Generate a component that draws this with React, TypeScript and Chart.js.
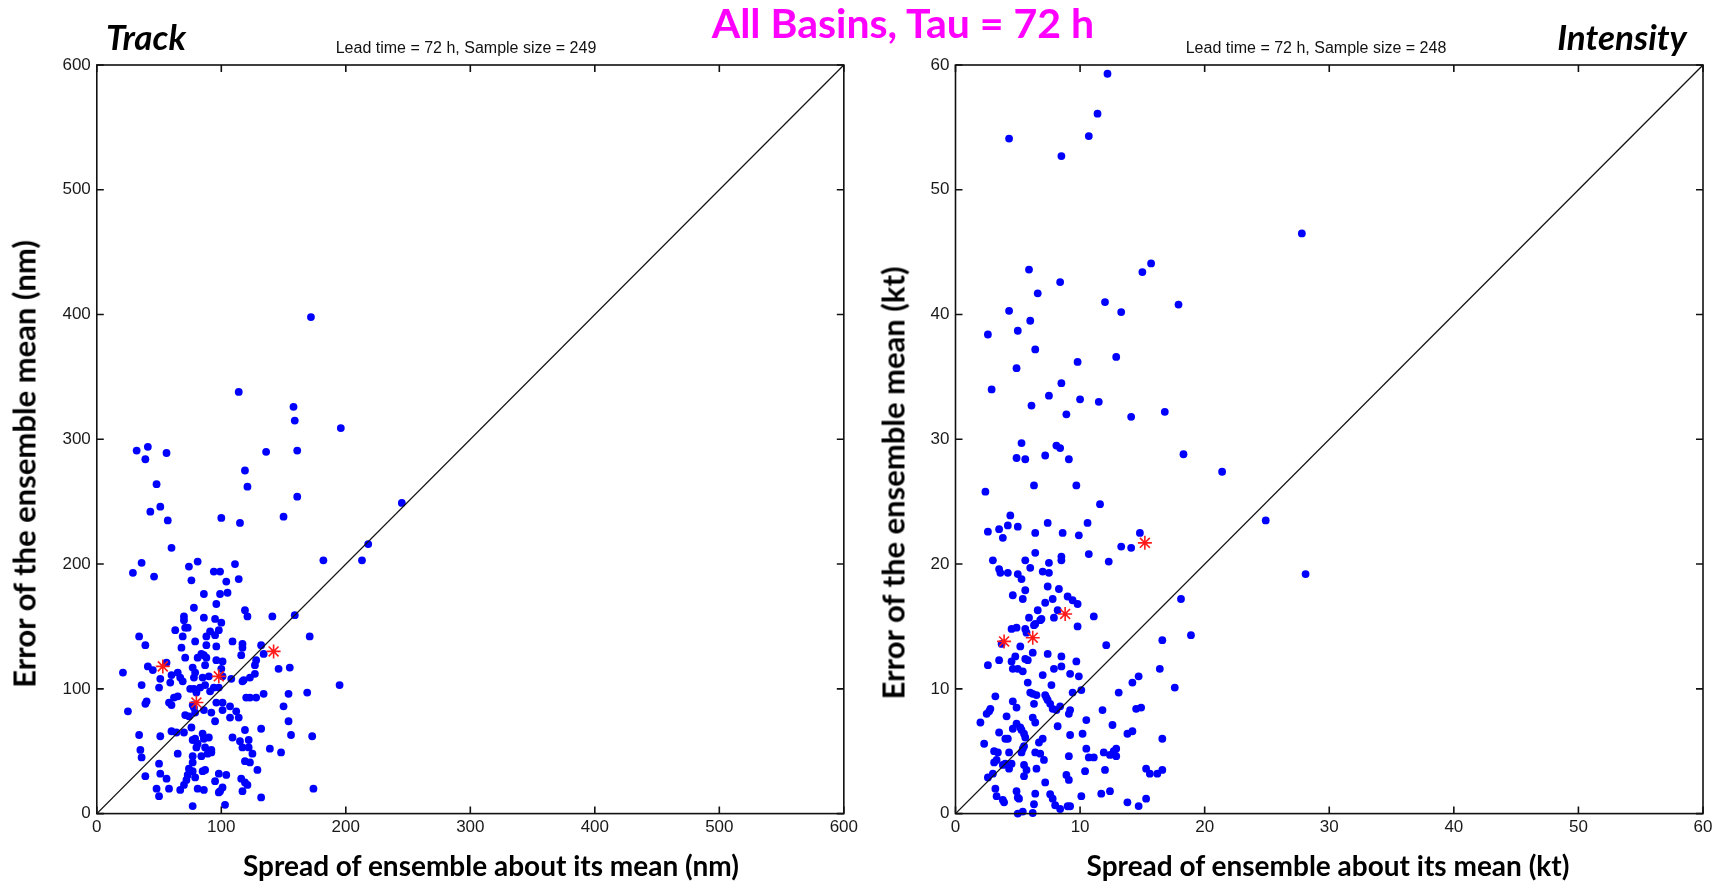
import React, { useEffect, useRef } from "react";
import { Chart, registerables } from "chart.js";
Chart.register(...registerables);

// ---------------- data ----------------
const trackSpread = [
  114, 158, 159, 196, 41, 32, 56, 136, 161, 39,
  119, 121, 48, 51, 43, 161, 57, 100, 115, 150,
  60, 36, 29, 46, 74, 81, 76, 94, 99, 111,
  114, 104, 99, 105, 86, 182, 119, 121, 78, 96,
  141, 159, 70, 70, 86, 95, 100, 71, 73, 63,
  91, 95, 98, 88, 69, 34, 39, 79, 109, 88,
  96, 68, 117, 117, 116, 132, 171, 71, 81, 84,
  86, 88, 96, 101, 87, 77, 56, 41, 45, 21,
  128, 127, 134, 146, 155, 127, 123, 118, 117, 108,
  100, 101, 79, 78, 65, 60, 67, 69, 59, 51,
  50, 36, 85, 83, 87, 90, 94, 98, 78, 75,
  80, 91, 96, 101, 120, 123, 128, 134, 154, 169,
  195, 62, 65, 58, 60, 39, 40, 25, 77, 78,
  86, 92, 101, 107, 112, 114, 107, 150, 154, 71,
  74, 95, 79, 60, 64, 70, 76, 34, 51, 85,
  90, 79, 77, 81, 86, 80, 87, 92, 92, 89,
  84, 77, 119, 132, 109, 122, 115, 117, 122, 125,
  139, 148, 156, 173, 35, 36, 65, 119, 123, 129,
  50, 77, 77, 74, 73, 79, 85, 87, 72, 51,
  56, 39, 98, 104, 95, 116, 119, 121, 48, 58,
  50, 67, 70, 81, 86, 99, 101, 98, 117, 132,
  174, 77, 103, 172, 245, 218, 213,
];
const trackError = [
  338, 326, 315, 309, 294, 291, 289, 290, 291, 284,
  275, 262, 264, 246, 242, 254, 235, 237, 233, 238,
  213, 201, 193, 190, 198, 202, 187, 194, 194, 200,
  188, 186, 176, 177, 176, 203, 163, 158, 165, 168,
  158, 159, 158, 155, 157, 156, 153, 149, 149, 147,
  146, 143, 147, 142, 142, 142, 135, 138, 138, 135,
  134, 133, 136, 133, 127, 135, 142, 125, 125, 128,
  127, 125, 123, 122, 119, 117, 121, 118, 115, 113,
  123, 119, 128, 116, 117, 112, 109, 107, 106, 108,
  116, 110, 113, 109, 113, 111, 109, 106, 105, 108,
  101, 103, 109, 101, 103, 110, 101, 101, 100, 100,
  97, 98, 89, 89, 93, 93, 93, 96, 96, 97,
  103, 93, 94, 89, 87, 88, 90, 82, 87, 85,
  83, 81, 83, 86, 82, 77, 77, 86, 74, 79,
  78, 74, 81, 66, 65, 65, 69, 63, 62, 64,
  61, 60, 59, 56, 60, 53, 53, 51, 49, 48,
  46, 46, 67, 68, 61, 59, 58, 53, 53, 48,
  52, 49, 63, 62, 51, 45, 48, 42, 41, 35,
  40, 41, 34, 36, 31, 29, 34, 35, 27, 32,
  28, 30, 32, 31, 26, 28, 25, 23, 20, 20,
  14, 19, 23, 20, 19, 18, 21, 17, 18, 13,
  20, 6, 7, 398, 249, 216, 203,
];
const trackStarSpread = [53, 98, 80, 142];
const trackStarError = [118, 110, 89, 130];

const intSpread = [
  12.2, 11.4, 4.3, 10.7, 8.5, 5.9, 8.4, 15.7, 15.0, 6.6,
  12.0, 17.9, 4.3, 13.3, 6.0, 5.0, 2.6, 6.4, 9.8, 12.9,
  4.9, 8.5, 2.9, 7.5, 10.0, 11.5, 6.1, 8.9, 14.1, 16.8,
  5.3, 8.1, 8.4, 4.9, 5.6, 7.2, 9.1, 18.3, 27.8, 21.4,
  24.9, 28.1, 18.9, 2.4, 6.3, 9.7, 11.6, 4.4, 7.4, 10.6,
  2.6, 3.5, 4.2, 5.0, 3.8, 6.4, 8.6, 9.9, 14.8, 13.3,
  14.1, 10.7, 6.4, 12.3, 3.0, 5.6, 8.5, 8.5, 7.5, 3.5,
  3.6, 4.2, 6.0, 5.0, 5.3, 7.0, 7.5, 4.6, 5.6, 5.4,
  7.4, 8.3, 7.8, 7.2, 9.0, 9.4, 9.8, 18.1, 8.2, 6.6,
  7.9, 5.9, 6.4, 6.3, 6.8, 6.9, 11.1, 9.8, 4.5, 4.9,
  5.6, 5.7, 5.2, 12.1, 16.6, 3.7, 6.2, 5.6, 5.8, 3.5,
  7.4, 8.5, 9.7, 2.6, 4.5, 4.8, 4.6, 5.0, 5.4, 7.9,
  8.5, 9.2, 9.9, 7.0, 14.7, 14.2, 16.4, 17.6, 5.8, 7.7,
  6.0, 6.2, 6.5, 7.2, 7.3, 7.4, 7.6, 7.8, 8.1, 8.4,
  3.2, 9.4, 10.1, 13.1, 4.6, 4.9, 6.3, 2.8, 2.7, 2.5,
  9.2, 9.1, 11.8, 14.5, 14.9, 4.1, 6.2, 6.4, 2.0, 8.2,
  10.5, 12.6, 4.9, 5.2, 4.6, 5.3, 5.5, 3.5, 9.2, 10.2,
  13.8, 14.2, 16.6, 4.0, 4.2, 5.6, 2.3, 6.7, 7.0, 3.1,
  3.4, 4.3, 5.3, 5.4, 5.5, 6.4, 6.8, 7.1, 9.1, 10.5,
  10.7, 11.1, 11.9, 12.4, 12.7, 12.9, 12.9, 3.3, 3.1, 4.0,
  3.8, 4.5, 4.3, 5.5, 5.7, 6.5, 2.6, 3.0, 5.5, 7.2,
  8.9, 9.1, 10.4, 12.0, 15.3, 15.6, 16.2, 16.6, 3.2, 3.3,
  3.8, 3.9, 4.9, 5.0, 5.1, 6.4, 6.3, 7.6, 7.8, 8.0,
  8.4, 9.0, 9.2, 10.1, 11.7, 12.4, 13.8, 14.7, 15.3, 5.0,
  5.4, 6.2,
];
const intError = [
  59.3, 56.1, 54.1, 54.3, 52.7, 43.6, 42.6, 44.1, 43.4, 41.7,
  41.0, 40.8, 40.3, 40.2, 39.5, 38.7, 38.4, 37.2, 36.2, 36.6,
  35.7, 34.5, 34.0, 33.5, 33.2, 33.0, 32.7, 32.0, 31.8, 32.2,
  29.7, 29.5, 29.3, 28.5, 28.4, 28.7, 28.4, 28.8, 46.5, 27.4,
  23.5, 19.2, 14.3, 25.8, 26.3, 26.3, 24.8, 23.9, 23.3, 23.3,
  22.6, 22.8, 23.1, 23.0, 22.1, 22.5, 22.5, 22.3, 22.5, 21.4,
  21.3, 20.8, 20.9, 20.2, 20.3, 20.3, 20.6, 20.3, 20.1, 19.6,
  19.3, 19.3, 19.7, 19.2, 18.8, 19.4, 19.3, 17.5, 17.9, 17.2,
  18.2, 18.0, 17.2, 16.9, 17.4, 17.1, 16.8, 17.2, 16.3, 16.3,
  15.7, 15.7, 15.2, 15.1, 15.5, 15.6, 15.8, 15.0, 14.8, 14.9,
  14.8, 14.5, 13.4, 13.5, 13.9, 13.6, 12.9, 12.4, 12.3, 12.3,
  12.8, 12.6, 12.2, 11.9, 12.2, 12.6, 11.6, 11.6, 11.4, 11.6,
  11.8, 11.2, 11.0, 11.1, 11.0, 10.5, 11.6, 10.1, 10.5, 10.3,
  9.7, 9.6, 9.5, 9.5, 9.3, 9.1, 8.8, 8.4, 8.3, 8.6,
  9.4, 9.7, 9.9, 9.7, 9.0, 8.5, 8.8, 8.4, 8.2, 8.0,
  8.3, 8.0, 8.3, 8.4, 8.5, 7.8, 7.7, 7.3, 7.3, 7.0,
  7.5, 7.1, 7.2, 6.9, 6.8, 6.7, 6.4, 6.5, 6.3, 6.4,
  6.4, 6.6, 6.0, 6.0, 6.0, 6.1, 5.6, 5.7, 6.0, 5.0,
  4.9, 4.9, 4.9, 5.2, 5.4, 4.9, 4.8, 4.3, 4.6, 5.2,
  4.5, 4.5, 4.9, 4.7, 5.0, 4.6, 5.2, 4.3, 4.1, 4.0,
  3.9, 4.0, 3.6, 3.9, 3.5, 3.6, 2.9, 3.2, 3.0, 2.5,
  3.1, 2.7, 3.4, 3.5, 3.6, 3.2, 3.2, 3.5, 2.0, 1.4,
  1.1, 0.9, 1.8, 1.3, 1.2, 1.6, 0.75, 1.55, 1.2, 0.67,
  0.37, 0.59, 0.59, 1.4, 1.6, 1.8, 0.9, 0.6, 1.2, 0,
  0.16, 0.05,
];
const intStarSpread = [3.9, 6.2, 8.8, 15.2];
const intStarError = [13.8, 14.1, 16.0, 21.7];

const trackTicks = [0, 100, 200, 300, 400, 500, 600];
const intTicks = [0, 10, 20, 30, 40, 50, 60];

const mainTitle = "All Basins, Tau = 72 h";
const leftPanel = "Track";
const rightPanel = "Intensity";
const leftSub = "Lead time = 72 h, Sample size = 249";
const rightSub = "Lead time = 72 h, Sample size = 248";
const leftXTitle = "Spread of ensemble about its mean (nm)";
const rightXTitle = "Spread of ensemble about its mean (kt)";
const leftYTitle = "Error of the ensemble mean (nm)";
const rightYTitle = "Error of the ensemble mean (kt)";

// ---------------- chart helpers ----------------
const CANVAS_W = 862;
const CANVAS_H = 881;
const PLOT_TOP = 65;
const X_AXIS_H = 67.4;

function zip(xs: number[], ys: number[]) {
  return xs.map((x, i) => ({ x, y: ys[i] }));
}

const boxPlugin = {
  id: "matlabBox",
  afterDatasetsDraw(chart: any, _args: any, opts: any) {
    const { ctx, chartArea: a, scales } = chart;
    const ticks: number[] = opts.ticks || [];
    const L = 7;
    ctx.save();
    ctx.strokeStyle = "#111";
    ctx.lineWidth = 1.6;
    ctx.strokeRect(a.left, a.top, a.right - a.left, a.bottom - a.top);
    ctx.beginPath();
    ticks.forEach((v) => {
      const px = scales.x.getPixelForValue(v);
      ctx.moveTo(px, a.bottom);
      ctx.lineTo(px, a.bottom - L);
      ctx.moveTo(px, a.top);
      ctx.lineTo(px, a.top + L);
      const py = scales.y.getPixelForValue(v);
      ctx.moveTo(a.left, py);
      ctx.lineTo(a.left + L, py);
      ctx.moveTo(a.right, py);
      ctx.lineTo(a.right - L, py);
    });
    ctx.stroke();
    ctx.restore();
  },
};

function makeConfig(
  xs: number[],
  ys: number[],
  sx: number[],
  sy: number[],
  ticks: number[],
  yAxisW: number,
  rightPad: number
): any {
  const max = ticks[ticks.length - 1];
  const step = ticks[1] - ticks[0];
  const tickFont = { family: "'Liberation Sans', Arial, sans-serif", size: 17 };
  return {
    type: "scatter",
    data: {
      datasets: [
        {
          label: "stars",
          data: zip(sx, sy),
          pointStyle: "star",
          pointRadius: 7,
          borderColor: "#ff1a1a",
          backgroundColor: "#ff1a1a",
          borderWidth: 1.6,
          clip: false,
          order: 1,
        },
        {
          label: "diag",
          data: [
            { x: 0, y: 0 },
            { x: max, y: max },
          ],
          showLine: true,
          borderColor: "#111",
          borderWidth: 1.3,
          pointRadius: 0,
          order: 2,
        },
        {
          label: "cases",
          data: zip(xs, ys),
          pointStyle: "circle",
          pointRadius: 3.9,
          borderWidth: 0,
          backgroundColor: "#0000ff",
          clip: false,
          order: 3,
        },
      ],
    },
    options: {
      responsive: false,
      animation: false,
      devicePixelRatio: 1,
      events: [],
      layout: { padding: { top: PLOT_TOP, right: rightPad, left: 0, bottom: 0 } },
      plugins: {
        legend: { display: false },
        tooltip: { enabled: false },
        matlabBox: { ticks },
      },
      scales: {
        x: {
          type: "linear",
          min: 0,
          max,
          ticks: { stepSize: step, font: tickFont, color: "#1a1a1a", padding: 4 },
          grid: { display: false, drawTicks: false },
          border: { display: false },
          afterFit: (s: any) => {
            s.height = X_AXIS_H;
          },
        },
        y: {
          type: "linear",
          min: 0,
          max,
          ticks: { stepSize: step, font: tickFont, color: "#1a1a1a", padding: 6 },
          grid: { display: false, drawTicks: false },
          border: { display: false },
          afterFit: (s: any) => {
            s.width = yAxisW;
          },
        },
      },
    },
    plugins: [boxPlugin],
  };
}

// ---------------- text helpers ----------------
function Label(props: {
  x: number;
  y: number;
  text: string;
  style: React.CSSProperties;
  rotate?: boolean;
}) {
  const { x, y, text, style, rotate } = props;
  return (
    <div
      style={{
        position: "absolute",
        left: x,
        top: y,
        transform: `translate(-50%, -50%)${rotate ? " rotate(-90deg)" : ""}`,
        whiteSpace: "nowrap",
        lineHeight: 1,
        ...style,
      }}
    >
      {text}
    </div>
  );
}

const calibriLike = "Lato, 'Open Sans', sans-serif";
const helvLike = "'Liberation Sans', Arial, sans-serif";

export default function App() {
  const leftRef = useRef<HTMLCanvasElement>(null);
  const rightRef = useRef<HTMLCanvasElement>(null);

  useEffect(() => {
    const c1 = new Chart(
      leftRef.current as HTMLCanvasElement,
      makeConfig(trackSpread, trackError, trackStarSpread, trackStarError, trackTicks, 96.8, CANVAS_W - 844.4)
    );
    const c2 = new Chart(
      rightRef.current as HTMLCanvasElement,
      makeConfig(intSpread, intError, intStarSpread, intStarError, intTicks, 955.5 - 862, CANVAS_W - (1703 - 862))
    );
    return () => {
      c1.destroy();
      c2.destroy();
    };
  }, []);

  const axisTitle: React.CSSProperties = {
    fontFamily: calibriLike,
    fontWeight: 700,
    fontSize: 28,
    color: "#000",
  };
  const yTitle: React.CSSProperties = { ...axisTitle, fontSize: 31 };
  const subStyle: React.CSSProperties = {
    fontFamily: helvLike,
    fontSize: 16,
    color: "#111",
  };
  const panelStyle: React.CSSProperties = {
    fontFamily: calibriLike,
    fontWeight: 700,
    fontStyle: "italic",
    fontSize: 35,
    color: "#000",
  };

  return (
    <div
      style={{
        position: "absolute",
        left: 0,
        top: 0,
        width: 1724,
        height: 881,
        background: "#fff",
        overflow: "hidden",
      }}
    >
      <canvas
        ref={leftRef}
        width={CANVAS_W}
        height={CANVAS_H}
        style={{ position: "absolute", left: 0, top: 0, width: CANVAS_W, height: CANVAS_H }}
      />
      <canvas
        ref={rightRef}
        width={CANVAS_W}
        height={CANVAS_H}
        style={{ position: "absolute", left: 862, top: 0, width: CANVAS_W, height: CANVAS_H }}
      />
      <Label
        x={903}
        y={22}
        text={mainTitle}
        style={{ fontFamily: calibriLike, fontWeight: 700, fontSize: 41, color: "#ff00ff" }}
      />
      <Label x={146} y={36} text={leftPanel} style={panelStyle} />
      <Label x={1622} y={36} text={rightPanel} style={panelStyle} />
      <Label x={466} y={48} text={leftSub} style={subStyle} />
      <Label x={1316} y={48} text={rightSub} style={subStyle} />
      <Label x={491} y={865} text={leftXTitle} style={axisTitle} />
      <Label x={1328} y={865} text={rightXTitle} style={axisTitle} />
      <Label x={24} y={464} text={leftYTitle} style={yTitle} rotate />
      <Label x={893} y={483} text={rightYTitle} style={yTitle} rotate />
    </div>
  );
}
